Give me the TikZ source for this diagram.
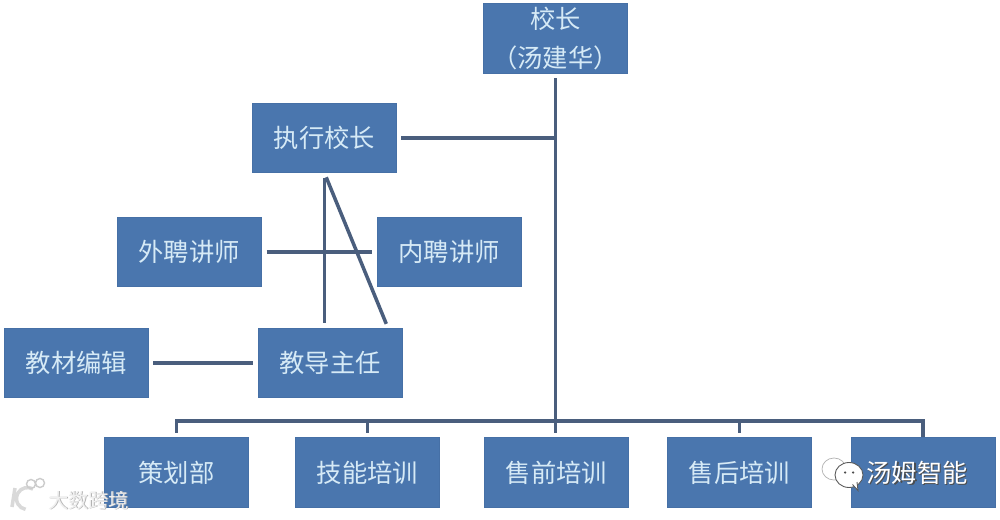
\documentclass[tikz,border=0pt]{standalone}
\usepackage{fontspec}
\setmainfont{Noto Sans CJK SC}
\usepackage{tikz}
\usetikzlibrary{calc, positioning}
\definecolor{boxblue}{HTML}{4A76AE}
\definecolor{boxedge}{HTML}{4670A6}
\definecolor{boxtext}{HTML}{D6EAF6}
\definecolor{linkgray}{HTML}{4A5E7D}
\tikzset{
  orgbox/.style={draw=boxedge, fill=boxblue, text=boxtext, minimum width=2.88cm, minimum height=1.39cm, inner sep=0pt, align=center, font=\fontsize{14.4}{22.7}\selectfont},
  link/.style={draw=linkgray, line width=2pt, shorten <=0.09cm, shorten >=0.09cm},
  stub/.style={draw=linkgray, line width=2pt, shorten <=0.09cm},
  wmark/.style={inner sep=0pt, font=\fontsize{14.4}{16}\selectfont},
  wsmall/.style={inner sep=0pt, font=\fontsize{11.5}{14}\selectfont},
}

\begin{document}
\begin{tikzpicture}
  \useasboundingbox (0,0) rectangle (20,10.38);
  \fill[white] (0,0) rectangle (20,10.38);

  % boxes
  \node[orgbox] (xiaozhang) at (11.11, 9.61) {校长\\（汤建华）};
  \node[orgbox] (zhixing) at (6.49, 7.62) {执行校长};
  \node[orgbox] (waipin) at (3.78, 5.34) {外聘讲师};
  \node[orgbox] (neipin) at (8.98, 5.34) {内聘讲师};
  \node[orgbox] (jiaocai) at (1.53, 3.12) {教材编辑};
  \node[orgbox] (jiaodao) at (6.60, 3.12) {教导主任};
  \node[orgbox] (cehua) at (3.53, 0.93) {策划部};
  \node[orgbox] (jineng) at (7.35, 0.93) {技能培训};
  \node[orgbox] (shouqian) at (11.13, 0.93) {售前培训};
  \node[orgbox] (shouhou) at (14.79, 0.93) {售后培训};
  \node[orgbox] (zuihou) at (18.46, 0.93) {};

  \coordinate (bus) at (11.11, 1.96);
  \coordinate (xiejiao) at (7.76, 3.82);

  % connectors
  \draw[link] (xiaozhang.south) -- (xiaozhang.south |- shouqian.north);
  \draw[link, shorten >=0pt] (zhixing.east) -- (xiaozhang.south |- zhixing.east);
  \draw[link] (waipin) ++(1.46,0) -- (neipin.west);
  \draw[link] (jiaocai.east) -- (jiaodao.west);
  \draw[link] (zhixing.south) -- (zhixing.south |- jiaodao.north);
  \draw[link] (zhixing.south) -- (xiejiao);
  \draw[stub] (cehua.north) |- (bus) -| (zuihou.north);
  \draw[stub] (jineng.north) -- (jineng.north |- bus);
  \draw[stub] (shouhou.north) -- (shouhou.north |- bus);

  % watermark, right
  \node[wmark, text=black!70] (tangmuying) at (18.37, 0.90) {汤姆智能};
  \node[wmark, text=white] (tangmu) at (18.34, 0.93) {汤姆智能};
  \draw[gray!60, line width=0.4pt, fill=white] (16.68, 1.00) ellipse (0.24 and 0.22);
  \draw[gray!70!black, line width=0.5pt, fill=white] (16.98, 0.88) ellipse (0.28 and 0.25);
  \fill[black!70] (16.90, 0.93) circle (0.025) (17.06, 0.93) circle (0.025);
  \draw[gray!70!black, line width=0.5pt, fill=white] (17.05, 0.69) -- (17.16, 0.57) -- (17.14, 0.74);

  % watermark, left
  \node[wsmall, text=gray!60] (dashuying) at (1.79, 0.36) {大数跨境};
  \node[wsmall, text=gray!12] (dashu) at (1.77, 0.37) {大数跨境};
  \draw[gray!30, line width=2pt] (0.30, 0.62) -- (0.24, 0.24);
  \draw[gray!30, line width=2pt] (0.66, 0.60) arc (60:260:0.22);
  \draw[gray!40, line width=0.8pt] (0.62, 0.70) circle (0.09) (0.80, 0.72) circle (0.09);
\end{tikzpicture}
\end{document}
